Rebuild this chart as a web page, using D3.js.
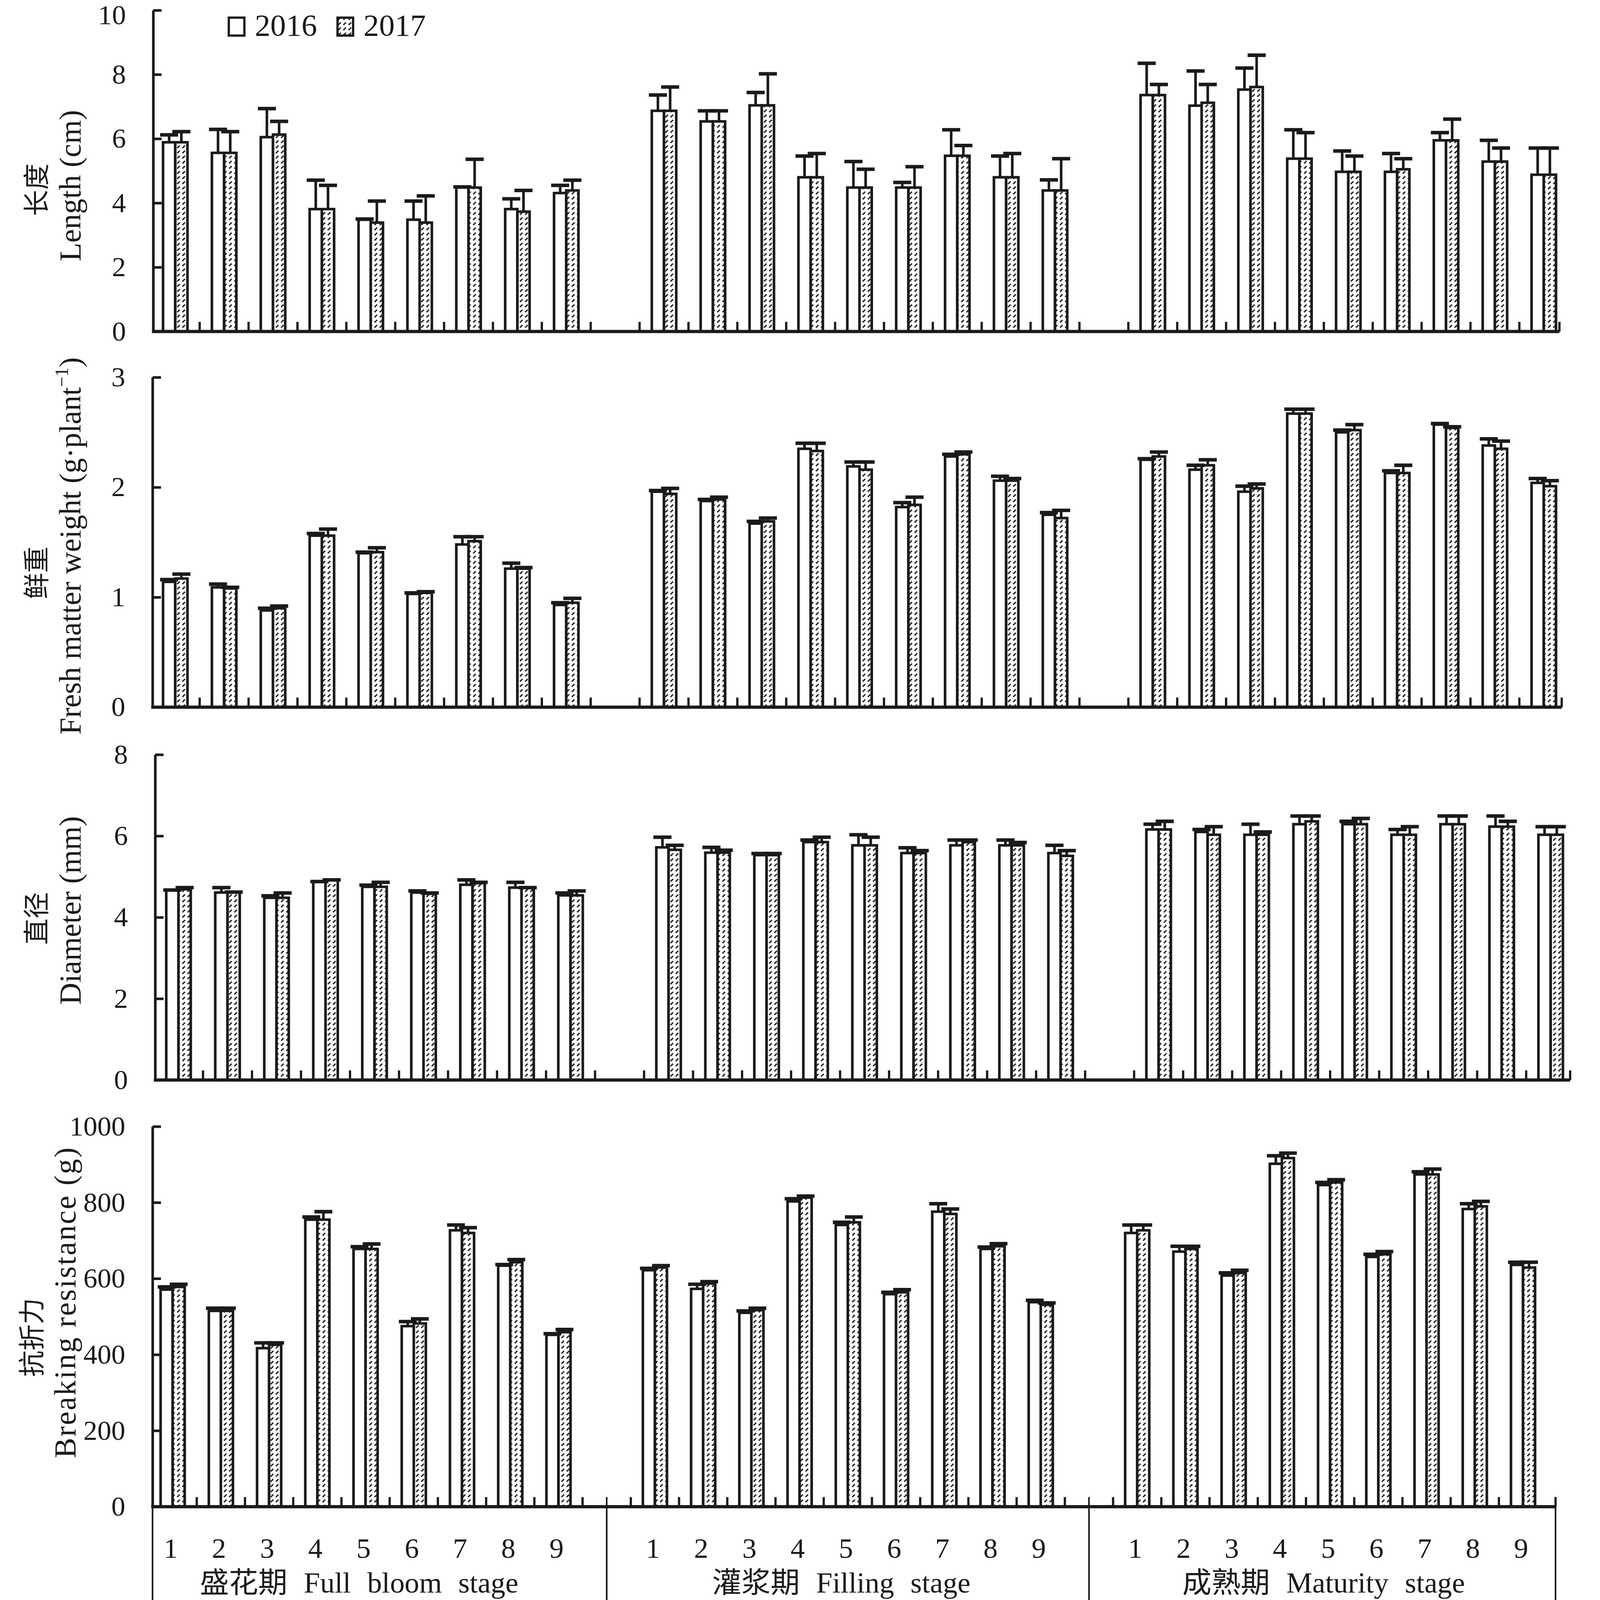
<!DOCTYPE html>
<html><head><meta charset="utf-8">
<script src="https://cdn.jsdelivr.net/npm/d3@7/dist/d3.min.js"></script>
<style>html,body{margin:0;padding:0;background:#fff;width:100%;height:100%;overflow:hidden;} svg{display:block;width:100vw;height:100vh;}</style>
</head><body>
<svg id="chart"></svg>
<script>
// ---------------- DATA ----------------
const groups = ["盛花期 Full bloom stage", "灌浆期 Filling stage", "成熟期 Maturity stage"];
const treatments = ["1","2","3","4","5","6","7","8","9"];
const years = ["2016","2017"];

// Length (cm)
const length2016 = [5.89,5.56,6.05,3.81,3.48,3.48,4.48,3.81,4.31, 6.87,6.54,7.04,4.80,4.48,4.48,5.47,4.80,4.39, 7.36,7.03,7.53,5.38,4.97,4.97,5.95,5.29,4.88];
const length2017 = [5.89,5.56,6.13,3.81,3.39,3.39,4.48,3.73,4.39, 6.87,6.54,7.04,4.80,4.48,4.48,5.47,4.80,4.39, 7.36,7.12,7.61,5.38,4.97,5.05,5.95,5.29,4.88];
const lengthErr2016 = [0.23,0.73,0.89,0.90,0.02,0.58,0.02,0.32,0.24, 0.49,0.33,0.40,0.66,0.81,0.16,0.81,0.66,0.33, 0.99,1.08,0.67,0.90,0.65,0.57,0.24,0.66,0.83];
const lengthErr2017 = [0.33,0.66,0.41,0.74,0.67,0.83,0.88,0.66,0.32, 0.74,0.33,0.98,0.74,0.57,0.65,0.32,0.74,0.99, 0.33,0.57,0.99,0.81,0.49,0.33,0.66,0.42,0.83];
const lengthTicks = [0,2,4,6,8,10];

// Fresh matter weight (g·plant-1)
const fresh2016 = [1.14,1.09,0.88,1.56,1.40,1.03,1.48,1.26,0.93, 1.96,1.875,1.67,2.35,2.19,1.82,2.28,2.06,1.75, 2.25,2.16,1.96,2.67,2.50,2.13,2.57,2.38,2.04];
const fresh2017 = [1.17,1.08,0.90,1.56,1.41,1.04,1.51,1.26,0.95, 1.94,1.89,1.69,2.33,2.16,1.84,2.30,2.06,1.72, 2.28,2.20,1.99,2.67,2.52,2.13,2.54,2.35,2.01];
const freshErr2016 = [0.02,0.03,0.02,0.02,0.01,0.01,0.07,0.05,0.02, 0.01,0.015,0.02,0.05,0.04,0.04,0.02,0.04,0.02, 0.01,0.04,0.05,0.04,0.02,0.02,0.01,0.06,0.04];
const freshErr2017 = [0.04,0.01,0.02,0.06,0.04,0.01,0.04,0.01,0.04, 0.05,0.02,0.03,0.07,0.07,0.07,0.02,0.02,0.07, 0.04,0.05,0.04,0.04,0.05,0.07,0.01,0.07,0.05];
const freshTicks = [0,1,2,3];

// Diameter (mm)
const diam2016 = [4.66,4.61,4.48,4.87,4.75,4.61,4.80,4.73,4.54, 5.72,5.59,5.53,5.85,5.77,5.58,5.77,5.77,5.58, 6.16,6.10,6.03,6.29,6.29,6.03,6.29,6.23,6.03];
const diam2017 = [4.69,4.61,4.48,4.91,4.75,4.58,4.84,4.72,4.54, 5.66,5.59,5.53,5.85,5.77,5.58,5.85,5.77,5.51, 6.16,6.03,6.03,6.36,6.29,6.03,6.29,6.23,6.03];
const diamErr2016 = [0.01,0.12,0.05,0.01,0.04,0.04,0.12,0.13,0.06, 0.25,0.13,0.04,0.05,0.26,0.13,0.13,0.13,0.19, 0.13,0.06,0.26,0.20,0.07,0.13,0.20,0.26,0.20];
const diamErr2017 = [0.04,0.01,0.12,0.01,0.11,0.02,0.02,0.01,0.11, 0.11,0.06,0.04,0.12,0.20,0.06,0.05,0.07,0.13, 0.20,0.20,0.07,0.13,0.14,0.20,0.20,0.13,0.20];
const diamTicks = [0,2,4,6,8];

// Breaking resistance (g)
const break2016 = [571,515,417,755,678,475,727,634,452, 622,573,510,803,741,559,776,678,538, 720,671,608,902,846,657,874,783,636];
const break2017 = [578,515,426,755,678,482,720,643,459, 629,587,517,813,748,564,770,685,531, 727,678,615,917,853,664,874,790,629];
const breakErr2016 = [7,7,14,7,6,12,14,3,3, 5,12,5,7,7,5,21,5,5, 21,14,7,21,7,7,7,14,7];
const breakErr2017 = [7,7,5,21,13,12,14,7,7, 5,5,5,4,14,7,13,7,5, 14,7,7,13,7,7,14,13,14];
const breakTicks = [0,200,400,600,800,1000];

// ---------------- LAYOUT ----------------
const W = 4930, H = 4991;
const INK = "#1a1a1a";
const SERIF = "'Liberation Serif','Times New Roman','Noto Sans CJK SC',serif";

const panels = [
  {v16:length2016, v17:length2017, e16:lengthErr2016, e17:lengthErr2017, ticks:lengthTicks,
   yBottom:1034, yTop:32, axisX:472, firstC:540, slot:150.6, axisEnd:4805, zh:"长度", en:"Length (cm)", zhX:142, enX:248, zhY:592, enY:579, ls:0},
  {v16:fresh2016, v17:fresh2017, e16:freshErr2016, e17:freshErr2017, ticks:freshTicks,
   yBottom:2206, yTop:1177, axisX:470, firstC:540, slot:150.6, axisEnd:4812, zh:"鲜重", en:null, zhX:142, enX:248, zhY:1787, enY:1703, ls:0},
  {v16:diam2016, v17:diam2017, e16:diamErr2016, e17:diamErr2017, ticks:diamTicks,
   yBottom:3369, yTop:2354, axisX:478, firstC:550, slot:151.0, axisEnd:4838, zh:"直径", en:"Diameter (mm)", zhX:142, enX:248, zhY:2865, enY:2840, ls:0},
  {v16:break2016, v17:break2017, e16:breakErr2016, e17:breakErr2017, ticks:breakTicks,
   yBottom:4700, yTop:3514, axisX:470, firstC:532, slot:148.6, axisEnd:4793, zh:"抗折力", en:"Breaking resistance (g)", zhX:128, enX:232, zhY:4172, enY:4062, ls:4, bottom:true}
];

// slot keys: 9 treatments per stage, with an empty slot between stages
const slotKeys = [];
groups.forEach((g, gi) => {
  treatments.forEach(t => slotKeys.push(gi + "|" + t));
  if (gi < groups.length - 1) slotKeys.push("gap" + gi);
});

const svg = d3.select("#chart")
  .attr("viewBox", `0 0 ${W} ${H}`).attr("preserveAspectRatio", "none")
  .style("background", "#fff");

const defs = svg.append("defs");
const pat = defs.append("pattern").attr("id", "hatch")
  .attr("patternUnits", "userSpaceOnUse").attr("width", 16).attr("height", 16);
pat.append("rect").attr("width", 16).attr("height", 16).attr("fill", "#fff");
pat.append("path").attr("d", "M2,14 L10,6").attr("stroke", INK).attr("stroke-width", 4.2);

panels.forEach((p, pi) => {
  const g = svg.append("g");
  const maxV = p.ticks[p.ticks.length - 1];
  const y = d3.scaleLinear().domain([0, maxV]).range([p.yBottom, p.yTop]);
  const bandStart = p.firstC - p.slot / 2;
  const x = d3.scaleBand().domain(slotKeys).range([bandStart, bandStart + slotKeys.length * p.slot]).padding(0);
  const bw = x.bandwidth();
  const barW = bw * 0.25;
  const capW = bw * 0.37;
  const cx = d => x(d.key) + bw * 0.25 + d.yi * barW + barW / 2;

  const recs = [];
  groups.forEach((gn, gi) => treatments.forEach((t, ti) => {
    const idx = gi * 9 + ti;
    years.forEach((yr, yi) => {
      recs.push({key: gi + "|" + t, yi,
        v: yi === 0 ? p.v16[idx] : p.v17[idx],
        e: yi === 0 ? p.e16[idx] : p.e17[idx]});
    });
  }));

  g.selectAll("rect.bar").data(recs).enter().append("rect")
    .attr("class", "bar")
    .attr("x", d => x(d.key) + bw * 0.25 + d.yi * barW)
    .attr("width", barW)
    .attr("y", d => y(d.v))
    .attr("height", d => y(0) - y(d.v))
    .attr("fill", d => d.yi === 0 ? "#fff" : "url(#hatch)")
    .attr("stroke", INK).attr("stroke-width", 8);

  const eg = g.selectAll("g.err").data(recs).enter().append("g").attr("class", "err");
  eg.append("line")
    .attr("x1", cx).attr("x2", cx)
    .attr("y1", d => y(d.v)).attr("y2", d => y(d.v + d.e))
    .attr("stroke", INK).attr("stroke-width", 8);
  eg.append("line")
    .attr("x1", d => cx(d) - capW / 2).attr("x2", d => cx(d) + capW / 2)
    .attr("y1", d => y(d.v + d.e)).attr("y2", d => y(d.v + d.e))
    .attr("stroke", INK).attr("stroke-width", 11);

  const yAxis = d3.axisLeft(y).tickValues(p.ticks).tickSizeInner(-26).tickSizeOuter(0).tickPadding(84)
    .tickFormat(d3.format("d"));
  const ya = g.append("g").attr("transform", `translate(${p.axisX},0)`).call(yAxis);
  ya.select(".domain").attr("stroke", INK).attr("stroke-width", 8);
  ya.selectAll(".tick line").attr("stroke", INK).attr("stroke-width", 8);
  ya.selectAll(".tick text").attr("font-family", SERIF).attr("font-size", 86).attr("fill", INK)
    .attr("dy", (d) => d === maxV && pi === 0 ? "0.5em" : "0.32em");

  const xEnd = p.axisEnd;
  g.append("line").attr("x1", p.axisX - 4).attr("x2", xEnd).attr("y1", p.yBottom).attr("y2", p.yBottom)
    .attr("stroke", INK).attr("stroke-width", 10);
  const tickXs = slotKeys.slice(1).map(k => x(k)).concat([xEnd]);
  g.selectAll("line.xt").data(tickXs).enter().append("line").attr("class", "xt")
    .attr("x1", d => d).attr("x2", d => d)
    .attr("y1", p.yBottom).attr("y2", p.yBottom - 30)
    .attr("stroke", INK).attr("stroke-width", 7);

  g.append("text").attr("transform", `translate(${p.zhX},${p.zhY}) rotate(-90)`)
    .attr("text-anchor", "middle").attr("font-family", SERIF).attr("font-size", 82).attr("fill", INK)
    .text(p.zh);
  const et = g.append("text").attr("transform", `translate(${p.enX},${p.enY}) rotate(-90)`)
    .attr("text-anchor", "middle").attr("font-family", SERIF).attr("font-size", 95).attr("fill", INK)
    .attr("letter-spacing", p.ls);
  if (p.en) {
    et.text(p.en);
  } else {
    et.append("tspan").text("Fresh matter weight (g·plant");
    et.append("tspan").attr("font-size", 58).attr("dy", -38).text("−1");
    et.append("tspan").attr("dy", 38).text(")");
  }

  if (p.bottom) {
    const divX = [p.axisX, x("gap0") + bw / 2, x("gap1") + bw / 2, xEnd];
    g.selectAll("line.div").data(divX).enter().append("line").attr("class", "div")
      .attr("x1", d => d).attr("x2", d => d)
      .attr("y1", (d, i) => (i === 0 ? p.yBottom : p.yBottom - 30)).attr("y2", H)
      .attr("stroke", INK).attr("stroke-width", 5);
    const nums = slotKeys.filter(k => k.indexOf("|") > 0);
    g.selectAll("text.num").data(nums).enter().append("text").attr("class", "num")
      .attr("x", d => x(d) + bw / 2 - 6).attr("y", 4860)
      .attr("text-anchor", "middle").attr("font-family", SERIF).attr("font-size", 88).attr("fill", INK)
      .text(d => d.split("|")[1]);
    g.selectAll("text.grp").data(groups).enter().append("text").attr("class", "grp")
      .attr("x", (d, gi) => x(gi + "|5") + bw / 2 - 20).attr("y", 4968)
      .attr("text-anchor", "middle").attr("font-family", SERIF).attr("font-size", 90).attr("fill", INK)
      .attr("word-spacing", 28)
      .text(d => d);
  }
});

const leg = svg.append("g");
years.forEach((yr, i) => {
  const lx = 705 + i * 335;
  leg.append("rect").attr("x", lx).attr("y", 55).attr("width", 48).attr("height", 56)
    .attr("fill", i === 0 ? "#fff" : "url(#hatch)").attr("stroke", INK).attr("stroke-width", 7);
  leg.append("text").attr("x", lx + 80).attr("y", 111).attr("font-family", SERIF)
    .attr("font-size", 96).attr("fill", INK).text(yr);
});
</script>
</body></html>
